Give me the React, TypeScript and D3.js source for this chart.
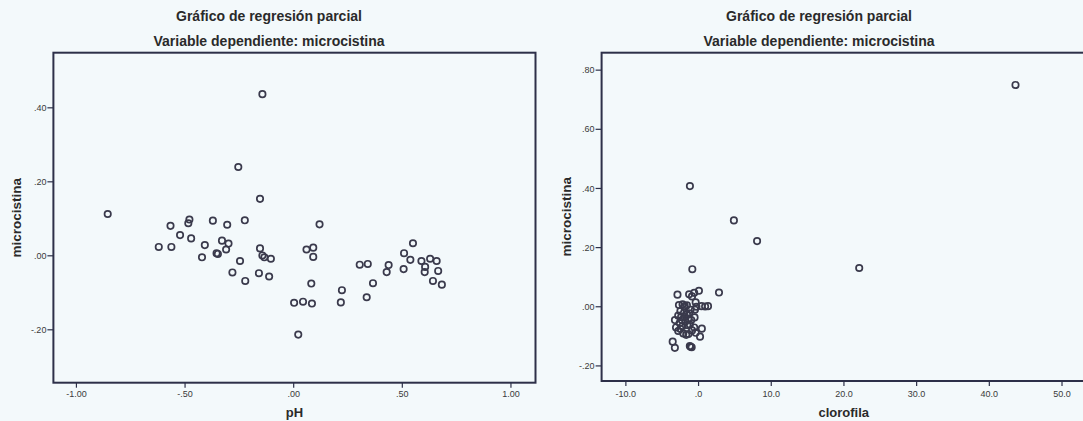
import React from "react";
import * as d3 from "d3";

// panel 1: pH vs microcistina (partial residuals)
const phValues = [
  -0.856, -0.144, -0.255, -0.155, -0.621, -0.567, -0.563, -0.523, -0.48, -0.485,
  -0.472, -0.409, -0.422, -0.372, -0.33, -0.355, -0.349, -0.306, -0.3, -0.311,
  -0.225, -0.247, -0.282, -0.223, -0.155, -0.144, -0.135, -0.105, -0.16, -0.113,
  0.119, 0.059, 0.09, 0.09, 0.081, 0.002, 0.043, 0.084, 0.021, 0.222,
  0.217, 0.304, 0.341, 0.336, 0.365, 0.428, 0.437, 0.508, 0.549, 0.537,
  0.506, 0.588, 0.605, 0.603, 0.628, 0.658, 0.665, 0.641, 0.682,
];
const micValuesPh = [
  0.113, 0.437, 0.24, 0.154, 0.024, 0.081, 0.024, 0.056, 0.098, 0.088,
  0.047, 0.029, -0.004, 0.095, 0.041, 0.007, 0.005, 0.084, 0.033, 0.017,
  0.096, -0.014, -0.045, -0.068, 0.02, 0.001, -0.004, -0.008, -0.047, -0.056,
  0.085, 0.017, 0.022, -0.003, -0.075, -0.127, -0.124, -0.129, -0.213, -0.093,
  -0.126, -0.024, -0.022, -0.112, -0.074, -0.044, -0.025, 0.007, 0.034, -0.011,
  -0.036, -0.014, -0.03, -0.044, -0.008, -0.014, -0.041, -0.068, -0.078,
];

// panel 2: clorofila vs microcistina (partial residuals)
const cloValues = [
  43.6, -1.19, 4.86, 8.05, 22.1, -0.86, 2.81,
  -2.9, -1.3, -0.6, 0.05, -0.9,
  -2.7, -2.2, -1.9, -1.6, -0.3, 0.4, 0.9, 1.3, -0.5, -0.4, -2.0, -1.1,
  -2.5, -2.0, -1.6, -1.3, -2.8, -1.9, -1.4, -0.55, -2.3, -2.4, -1.0,
  -3.25, -2.6, -1.8, -1.2, -1.55, -2.2, -3.1, -2.5, 0.45, -0.6,
  -2.1, -1.4, -0.4, 0.2, -2.8, -0.9, -1.7,
  -3.56, -3.26, -1.09, -0.95, -1.2,
];
const micValuesClo = [
  0.75, 0.408, 0.292, 0.222, 0.131, 0.127, 0.048,
  0.041, 0.042, 0.047, 0.054, 0.035,
  0.006, 0.008, 0.002, 0.005, 0.0, 0.002, 0.001, 0.002, -0.01, 0.015, 0.0, -0.01,
  -0.015, -0.02, -0.025, -0.022, -0.03, -0.035, -0.04, -0.036, -0.045, -0.035, -0.045,
  -0.045, -0.055, -0.05, -0.06, -0.062, -0.065, -0.07, -0.075, -0.074, -0.07,
  -0.09, -0.092, -0.088, -0.101, -0.082, -0.08, -0.095,
  -0.118, -0.139, -0.135, -0.137, -0.133,
];

const phTicks = [-1, -0.5, 0, 0.5, 1];
const phTickLabels = ["-1.00", "-.50", ".00", ".50", "1.00"];
const micTicksLeft = [-0.2, 0, 0.2, 0.4];
const micTickLabelsLeft = ["-.20", ".00", ".20", ".40"];
const cloTicks = [-10, 0, 10, 20, 30, 40, 50];
const cloTickLabels = ["-10.0", ".0", "10.0", "20.0", "30.0", "40.0", "50.0"];
const micTicksRight = [-0.2, 0, 0.2, 0.4, 0.6, 0.8];
const micTickLabelsRight = ["-.20", ".00", ".20", ".40", ".60", ".80"];

const title1 = "Gráfico de regresión parcial";
const title2 = "Variable dependiente: microcistina";
const yTitle = "microcistina";

const BG = "#f3f9fb";
const FRAME = "#2d3049";
const DOT = "#3a3a4c";
const TEXT = "#2a2a2a";
const FONT = "'Liberation Sans', Arial, sans-serif";

type PanelProps = {
  box: { left: number; right: number; top: number; bottom: number };
  xDomain: [number, number];
  yDomain: [number, number];
  xs: number[];
  ys: number[];
  xTicks: number[];
  xTickLabels: string[];
  yTicks: number[];
  yTickLabels: string[];
  titleX: number;
  yTitleX: number;
  xTitle: string;
};

const Panel = (p: PanelProps) => {
  const { box } = p;
  const x = d3.scaleLinear().domain(p.xDomain).range([box.left, box.right]);
  const y = d3.scaleLinear().domain(p.yDomain).range([box.bottom, box.top]);
  const midY = (box.top + box.bottom) / 2;
  const midX = (box.left + box.right) / 2;

  return (
    <g fontFamily={FONT}>
      <text x={p.titleX} y={21} textAnchor="middle" fontSize={14} fontWeight="bold" fill={TEXT}>
        {title1}
      </text>
      <text x={p.titleX} y={46} textAnchor="middle" fontSize={14} fontWeight="bold" fill={TEXT}>
        {title2}
      </text>

      <rect
        x={box.left}
        y={box.top}
        width={box.right - box.left}
        height={box.bottom - box.top}
        fill={BG}
        stroke={FRAME}
        strokeWidth={2}
      />

      {p.yTicks.map((t, i) => (
        <g key={"y" + i}>
          <line x1={box.left - 6} x2={box.left} y1={y(t)} y2={y(t)} stroke={FRAME} strokeWidth={1.2} />
          <text
            x={box.left - 7}
            y={y(t)}
            dy="0.35em"
            textAnchor="end"
            fontSize={9}
            fill="#3a3a3a"
          >
            {p.yTickLabels[i]}
          </text>
        </g>
      ))}

      {p.xTicks.map((t, i) => (
        <g key={"x" + i}>
          <line x1={x(t)} x2={x(t)} y1={box.bottom} y2={box.bottom + 5} stroke={FRAME} strokeWidth={1.2} />
          <text x={x(t)} y={397} textAnchor="middle" fontSize={9} fill="#3a3a3a">
            {p.xTickLabels[i]}
          </text>
        </g>
      ))}

      <text x={midX} y={417} textAnchor="middle" fontSize={13} fontWeight="bold" fill={TEXT}>
        {p.xTitle}
      </text>
      <text
        transform={`translate(${p.yTitleX},${midY}) rotate(-90)`}
        textAnchor="middle"
        dy="0.35em"
        fontSize={13.5}
        fontWeight="bold"
        fill={TEXT}
      >
        {yTitle}
      </text>

      {p.xs.map((v, i) => (
        <circle
          key={"p" + i}
          cx={x(v)}
          cy={y(p.ys[i])}
          r={3.2}
          fill="none"
          stroke={DOT}
          strokeWidth={1.7}
        />
      ))}
    </g>
  );
};

export default function App() {
  return (
    <svg
      width={1083}
      height={421}
      style={{ position: "absolute", left: 0, top: 0, background: BG }}
    >
      <rect x={0} y={0} width={1083} height={421} fill={BG} />
      <Panel
        box={{ left: 53.4, right: 535.5, top: 52.7, bottom: 382.7 }}
        xDomain={[-1.106, 1.113]}
        yDomain={[-0.343, 0.549]}
        xs={phValues}
        ys={micValuesPh}
        xTicks={phTicks}
        xTickLabels={phTickLabels}
        yTicks={micTicksLeft}
        yTickLabels={micTickLabelsLeft}
        titleX={269}
        yTitleX={16}
        xTitle="pH"
      />
      <Panel
        box={{ left: 601.6, right: 1086, top: 52.7, bottom: 381 }}
        xDomain={[-13.34, 53.3]}
        yDomain={[-0.251, 0.859]}
        xs={cloValues}
        ys={micValuesClo}
        xTicks={cloTicks}
        xTickLabels={cloTickLabels}
        yTicks={micTicksRight}
        yTickLabels={micTickLabelsRight}
        titleX={819}
        yTitleX={566}
        xTitle="clorofila"
      />
    </svg>
  );
}
